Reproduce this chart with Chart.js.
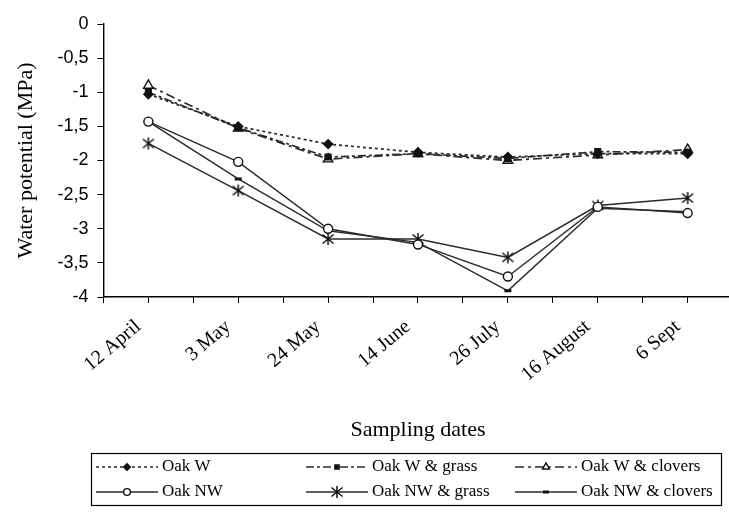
<!DOCTYPE html>
<html>
<head>
  <title>Water potential</title>
  <script src="https://cdn.jsdelivr.net/npm/chart.js"></script>
  <style>
    body { margin: 0; overflow: hidden; background: #fff; }
  </style>
</head>
<body>
<canvas id="wpChart" width="760" height="513"></canvas>

<script>
  // sampling dates and measured water potentials (MPa)
  const dates = ['12 April', '3 May', '24 May', '14 June', '26 July', '16 August', '6 Sept'];
  const oakW = [-1.03, -1.50, -1.76, -1.88, -1.95, -1.90, -1.90];
  const oakWGrass = [-1.00, -1.52, -1.95, -1.90, -1.97, -1.87, -1.88];
  const oakWClovers = [-0.90, -1.53, -1.98, -1.90, -2.00, -1.92, -1.84];
  const oakNW = [-1.43, -2.02, -3.00, -3.23, -3.70, -2.68, -2.77];
  const oakNWGrass = [-1.75, -2.44, -3.15, -3.15, -3.42, -2.66, -2.55];
  const oakNWClovers = [-1.43, -2.27, -3.03, -3.20, -3.91, -2.70, -2.75];

  const serif = '"Liberation Serif", "Times New Roman", serif';
  const sans = '"Liberation Sans", Arial, sans-serif';

  // six-armed asterisk marker
  const star = document.createElement('canvas');
  star.width = 14; star.height = 14;
  (function () {
    const c = star.getContext('2d');
    c.strokeStyle = '#111';
    c.lineWidth = 1.5;
    c.beginPath();
    c.moveTo(7, 1); c.lineTo(7, 13);
    c.moveTo(1.5, 2.5); c.lineTo(12.5, 11.5);
    c.moveTo(12.5, 2.5); c.lineTo(1.5, 11.5);
    c.stroke();
  })();

  const pts = arr => arr.map((v, i) => ({ x: i, y: v }));

  function series(label, values, dash, style, radius, fill, solid) {
    return {
      label: label,
      data: pts(values),
      borderColor: '#2a2a2a',
      borderWidth: solid ? 1.4 : 1.7,
      borderDash: dash,
      pointStyle: style,
      pointRadius: radius,
      pointBackgroundColor: fill,
      pointBorderColor: '#111',
      pointBorderWidth: style === 'line' ? 3 : 1.4,
      tension: 0,
      fill: false
    };
  }

  const datasets = [
    series('Oak W', oakW, [3, 3], 'rectRot', 4.5, '#111'),
    series('Oak W & grass', oakWGrass, [8, 3, 3, 3], 'rect', 4, '#111'),
    series('Oak W & clovers', oakWClovers, [9, 4, 3, 4], 'triangle', 5.5, '#fff'),
    series('Oak NW', oakNW, [], 'circle', 4.5, '#fff', true),
    series('Oak NW & grass', oakNWGrass, [], star, 7, '#fff', true),
    series('Oak NW & clovers', oakNWClovers, [], 'line', 3.5, '#111', true)
  ];

  // boxed legend with line samples, two rows of three
  const boxLegend = {
    id: 'boxLegend',
    afterDraw(chart) {
      const ctx = chart.ctx;
      const cols = [96, 306, 515];
      const rows = [467, 492];
      const sample = 62;
      ctx.save();
      ctx.lineWidth = 1.2;
      ctx.strokeStyle = '#000';
      ctx.setLineDash([]);
      ctx.strokeRect(91.5, 453.5, 630, 52);
      chart.data.datasets.forEach((ds, i) => {
        const x = cols[i % 3];
        const y = rows[Math.floor(i / 3)];
        ctx.strokeStyle = ds.borderColor;
        ctx.lineWidth = ds.borderWidth;
        ctx.setLineDash(ds.borderDash);
        ctx.beginPath();
        ctx.moveTo(x, y);
        ctx.lineTo(x + sample, y);
        ctx.stroke();
        ctx.setLineDash([]);
        ctx.fillStyle = ds.pointBackgroundColor;
        ctx.strokeStyle = ds.pointBorderColor;
        ctx.lineWidth = ds.pointBorderWidth;
        Chart.helpers.drawPoint(ctx, {
          pointStyle: ds.pointStyle,
          rotation: 0,
          radius: ds.pointStyle === 'line' ? 3 : ds.pointRadius * 0.75,
          borderWidth: ds.pointBorderWidth
        }, x + sample / 2, y);
        ctx.fillStyle = '#000';
        ctx.font = '17px ' + serif;
        ctx.textBaseline = 'middle';
        ctx.fillText(ds.label, x + sample + 4, y);
      });
      ctx.restore();
    }
  };

  const ctx = document.getElementById('wpChart').getContext('2d');
  new Chart(ctx, {
    type: 'line',
    data: { datasets: datasets },
    plugins: [boxLegend],
    options: {
      responsive: false,
      animation: false,
      layout: { padding: { left: 9, right: 18, top: 24, bottom: 66 } },
      plugins: { legend: { display: false }, tooltip: { enabled: false } },
      scales: {
        x: {
          type: 'linear',
          min: -0.5,
          max: 6.5,
          border: { color: '#000', width: 1.4 },
          grid: { drawOnChartArea: false, color: '#000', tickLength: 6 },
          ticks: {
            stepSize: 0.5,
            autoSkip: false,
            minRotation: 40,
            maxRotation: 40,
            padding: 12,
            labelOffset: -10,
            color: '#000',
            font: { family: serif, size: 20 },
            callback: v => Number.isInteger(v) ? dates[v] : ''
          },
          title: {
            display: true,
            text: 'Sampling dates',
            color: '#000',
            font: { family: serif, size: 22 },
            padding: { top: 18 }
          }
        },
        y: {
          min: -4,
          max: 0,
          border: { color: '#000', width: 1.4 },
          grid: { drawOnChartArea: false, color: '#000', tickLength: 6 },
          ticks: {
            stepSize: 0.5,
            padding: 9,
            color: '#000',
            font: { family: sans, size: 18 },
            callback: v => String(v).replace('.', ',')
          },
          title: {
            display: true,
            text: 'Water potential (MPa)',
            color: '#000',
            font: { family: serif, size: 22 },
            padding: { bottom: 9 }
          }
        }
      }
    }
  });
</script>
</body>
</html>
